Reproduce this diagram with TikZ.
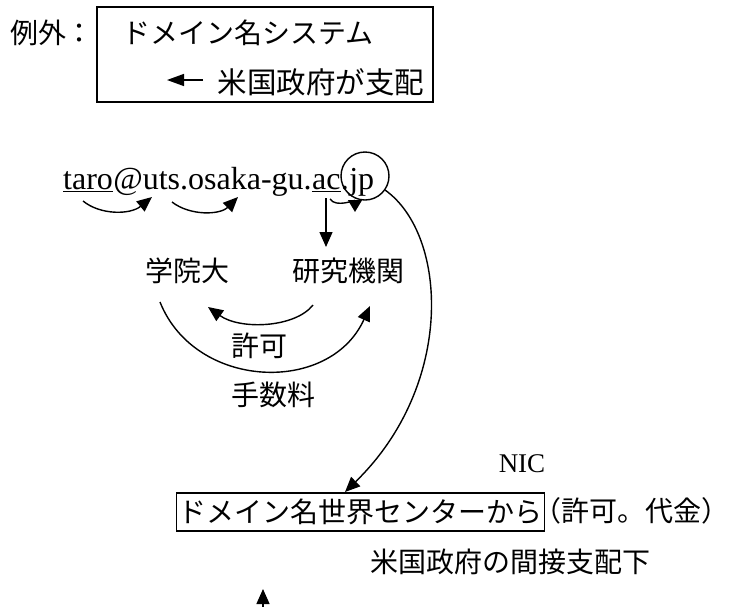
\documentclass[tikz,border=0pt]{standalone}
\usepackage{fontspec}
\setmainfont{Liberation Serif}
\newfontfamily\jpf{Noto Sans CJK JP}
\usetikzlibrary{arrows.meta}
\begin{document}
\begin{tikzpicture}[x=1pt,y=-1pt,
  jptext/.style={font=\jpf\fontsize{28}{30}\selectfont, inner sep=0pt},
  emtext/.style={font=\fontsize{32}{34}\selectfont, inner sep=0pt, anchor=base west},
  arr/.style={line width=1.4pt, -{Triangle[length=15pt,width=13pt]}},
  boxed/.style={draw, line width=1.8pt},
  uline/.style={line width=1.6pt}]
\useasboundingbox (0,0) rectangle (732,606);

% top box
\node[jptext] (reigai) at (52,33) {例外：};
\node[boxed, minimum width=336pt, minimum height=95pt, inner sep=0pt] (exbox) at (265,54.5) {};
\node[jptext] (dns) at (248,33) {ドメイン名システム};
\node[jptext, font=\jpf\fontsize{29.5}{31}\selectfont] (usgov) at (321,82) {米国政府が支配};
\coordinate (la0) at (203,80);
\coordinate (la1) at (167,80);
\draw[line width=1.4pt, -{Triangle[length=17pt,width=12pt]}] (la0) -- (la1);

% e-mail address
\node[emtext] (taro) at (63,189) {taro};
\node[emtext] (mid) at (taro.base east) {@uts.osaka-gu.};
\node[emtext] (ac) at (mid.base east) {ac};
\node[emtext] (dot) at (ac.base east) {.};
\node[emtext] (jpn) at (dot.base east) {jp};
\node[draw, circle, line width=1.4pt, minimum size=48pt, inner sep=0pt] (jpc) at (365,176) {};
\draw[uline] ([yshift=-2.5pt]taro.base west) -- ([yshift=-2.5pt]taro.base east);
\draw[uline] ([yshift=-2.5pt]ac.base west) -- ([yshift=-2.5pt]ac.base east);

% small curved arrows
\coordinate (s1) at (83,201);  \coordinate (e1) at (152,197);
\coordinate (s2) at (172,202); \coordinate (e2) at (238,197);
\coordinate (s3) at (330,199); \coordinate (e3) at (355,212);
\draw[arr] (s1) .. controls (100,215) and (130,215) .. (e1);
\draw[arr] (s2) .. controls (190,216) and (220,215) .. (e2);
\draw[line width=1.4pt, -{Triangle[length=12pt,width=14pt]}] (s3) .. controls (336,208) and (355,200) .. (e3);

% ac -> research
\coordinate (v0) at (326,198);
\coordinate (v1) at (326,247);
\draw[arr] (v0) -- (v1);

\node[jptext] (gakuin) at (187,271) {学院大};
\node[jptext] (kenkyu) at (348,271) {研究機関};

\coordinate (k0) at (313,305); \coordinate (k1) at (208,307);
\draw[arr] (k0) .. controls (295,328) and (240,330) .. (k1);
\node[jptext] (kyoka) at (259,346) {許可};

\coordinate (t0) at (160,302); \coordinate (t1) at (370,306);
\draw[arr] (t0) .. controls (195,390) and (330,395) .. (t1);
\node[jptext] (tesuryo) at (273,395) {手数料};

% center box
\node[jptext, boxed, inner sep=2pt, minimum width=368pt, minimum height=38pt] (center) at (360.5,512) {ドメイン名世界センターから};
\node[jptext] (paren) at (631,511) {（許可。代金）};
\node[jptext] (indirect) at (510.5,562) {米国政府の間接支配下};
\node[font=\fontsize{27}{28}\selectfont, inner sep=0pt] (nic) at (522,464) {NIC};

\coordinate (ntip) at (345,492);
\draw[arr] (jpc.-35) .. controls (448,235) and (455,385) .. (ntip);

\coordinate (b0) at (263,607);
\coordinate (b1) at (263,589);
\draw[arr] (b0) -- (b1);
\end{tikzpicture}
\end{document}
